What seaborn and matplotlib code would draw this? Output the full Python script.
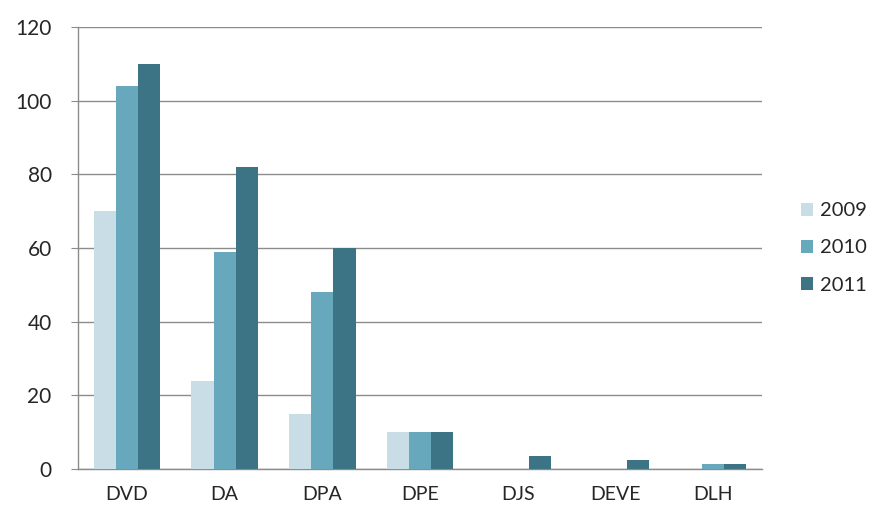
import pandas as pd
import matplotlib.pyplot as plt
import seaborn as sns

categories = ['DVD', 'DA', 'DPA', 'DPE', 'DJS', 'DEVE', 'DLH']
years = ['2009', '2010', '2011']
v2009 = [70, 24, 15, 10, 0, 0, 0]
v2010 = [104, 59, 48, 10, 0, 0, 1.5]
v2011 = [110, 82, 60, 10, 3.5, 2.5, 1.5]
colors = ['#c8dde6', '#67a8bd', '#3c7485']

df = pd.DataFrame({
    'cat': categories * 3,
    'year': [y for y in years for _ in categories],
    'value': v2009 + v2010 + v2011,
})

sns.set_style('white')
plt.rcParams['font.family'] = ['Lato', 'DejaVu Sans']

fig = plt.figure(figsize=(8.77, 5.16), dpi=100)
ax = fig.add_axes([0.089, 0.091, 0.78, 0.857])
sns.barplot(data=df, x='cat', y='value', hue='year', palette=colors,
            width=0.68, saturation=1, linewidth=0, ax=ax, zorder=3)

ax.set_ylim(0, 120)
ax.set_yticks(range(0, 121, 20))
ax.yaxis.grid(True, color='#8c8c8c', linewidth=1, zorder=0)
ax.set_axisbelow(True)
for s in ['top', 'right']:
    ax.spines[s].set_visible(False)
for s in ['left', 'bottom']:
    ax.spines[s].set_color('#8c8c8c')
    ax.spines[s].set_linewidth(1)
ax.tick_params(axis='y', length=5, color='#8c8c8c', labelsize=15, pad=14, left=True)
ax.tick_params(axis='x', length=0, labelsize=14, pad=12)
ax.set_xlabel('')
ax.set_ylabel('')
ax.legend(loc='center left', bbox_to_anchor=(1.03, 0.5), frameon=False,
          fontsize=14.5, handlelength=0.6, handleheight=0.6, labelspacing=1.0,
          handletextpad=0.35)

fig.savefig('out.png', dpi=100)
